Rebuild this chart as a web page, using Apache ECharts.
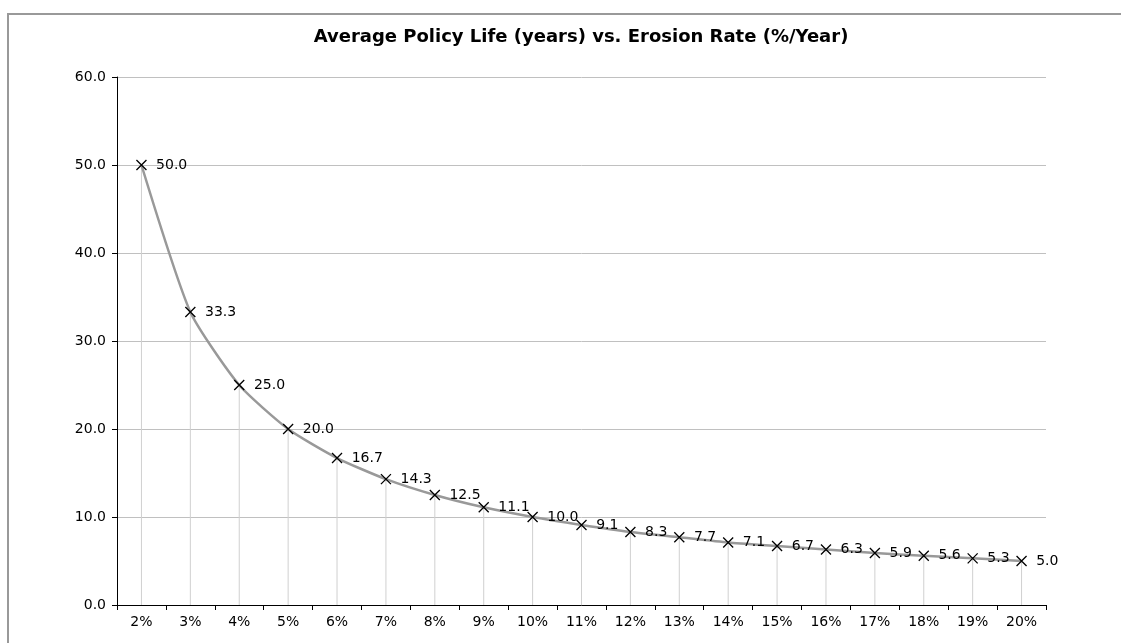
<!DOCTYPE html>
<html>
<head>
<meta charset="utf-8">
<script src="https://cdn.jsdelivr.net/npm/echarts@6/dist/echarts.min.js"></script>
<style>
  html, body { margin: 0; padding: 0; background: #fff; }
  #chart { width: 1121px; height: 643px; }
</style>
</head>
<body>
<div id="chart"></div>
<script>
// Erosion rate categories (%/year) and the resulting average policy life (years)
const erosionRates = ['2%', '3%', '4%', '5%', '6%', '7%', '8%', '9%', '10%', '11%',
  '12%', '13%', '14%', '15%', '16%', '17%', '18%', '19%', '20%'];
const policyLife = [50.0, 33.3, 25.0, 20.0, 16.7, 14.3, 12.5, 11.1, 10.0, 9.1,
  8.3, 7.7, 7.1, 6.7, 6.3, 5.9, 5.6, 5.3, 5.0];
const yTicks = { min: 0, max: 60, interval: 10 };

const chart = echarts.init(document.getElementById('chart'), null, { renderer: 'canvas' });
const font = 'DejaVu Sans, Verdana, sans-serif';
const labelSize = 14;

chart.setOption({
  backgroundColor: '#fff',
  animation: false,
  title: {
    text: 'Average Policy Life (years) vs. Erosion Rate (%/Year)',
    left: 576,
    textAlign: 'center',
    top: 23,
    textStyle: { fontFamily: font, fontSize: 18, fontWeight: 'bold', color: '#000' }
  },
  grid: { left: 117, right: 75, top: 77, bottom: 38, containLabel: false },
  xAxis: {
    type: 'category',
    data: erosionRates,
    boundaryGap: true,
    axisLine: { lineStyle: { color: '#000', width: 1 } },
    axisTick: { show: true, length: 5, inside: false, lineStyle: { color: '#000' } },
    axisLabel: { fontFamily: font, fontSize: labelSize, color: '#000', margin: 10 },
    splitLine: { show: false }
  },
  yAxis: {
    type: 'value',
    min: yTicks.min,
    max: yTicks.max,
    interval: yTicks.interval,
    axisLine: { show: true, lineStyle: { color: '#000', width: 1 } },
    axisTick: { show: true, length: 5, lineStyle: { color: '#000' } },
    axisLabel: {
      fontFamily: font, fontSize: labelSize, color: '#000', margin: 11,
      formatter: v => v.toFixed(1)
    },
    splitLine: { show: true, lineStyle: { color: '#c0c0c0', width: 1 } }
  },
  series: [
    {
      // drop lines from each point down to the category axis
      type: 'bar',
      data: policyLife,
      barWidth: 1,
      itemStyle: { color: '#d0d0d0' },
      silent: true,
      z: 1
    },
    {
      type: 'line',
      data: policyLife,
      smooth: 0.2,
      symbol: 'path://M0,0L10,10M10,0L0,10',
      symbolSize: 10,
      itemStyle: { color: '#000', borderColor: '#000', borderWidth: 1.3 },
      lineStyle: { color: '#999', width: 2.5 },
      label: {
        show: true,
        position: 'right',
        distance: 9,
        fontFamily: font,
        fontSize: labelSize,
        color: '#000',
        formatter: p => p.value.toFixed(1)
      },
      z: 3
    }
  ],
  graphic: [
    {
      type: 'polyline',
      shape: { points: [[8, 643], [8, 14], [1121, 14]] },
      style: { stroke: '#999', lineWidth: 2, fill: null },
      silent: true
    }
  ]
});
</script>
</body>
</html>
